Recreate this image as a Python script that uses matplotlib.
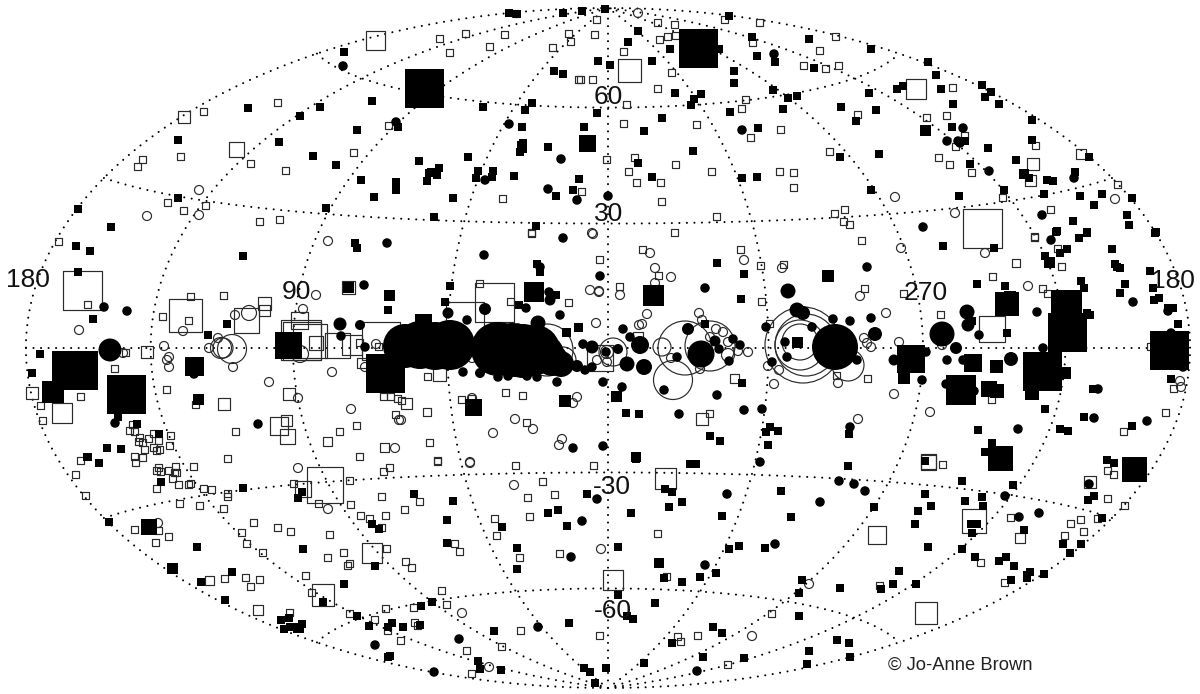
import numpy as np
import matplotlib
matplotlib.use("Agg")
import matplotlib.pyplot as plt

plt.rcParams['font.family'] = ['Liberation Sans', 'DejaVu Sans']

# Sky-map positions, in map units (x, y), y downward.
small_filled_squares = [
(509,13),(517,14),(563,13),(582,11),(344,52),(598,61),(554,71),(563,74),(248,108),(320,107),(300,116),(372,101),(483,107),(532,103),(525,110),(597,113),(522,127),(584,127),(357,130),(398,127),(178,140),(279,142),(523,143),(521,145),(523,149),(520,152),(548,147),(313,156),(336,165),(419,161),(468,157),(439,168),(431,172),(429,173),(437,175),(478,171),(493,171),(492,177),(476,178),(514,176),(579,179),(361,180),(396,182),(427,181),(396,190),(573,190),(556,196),(374,197),(453,198),(178,198),(78,209),(326,208),(434,217),(111,227),(536,226),
(605,9),(729,16),(638,31),(628,42),(670,49),(652,61),(610,65),(752,37),(809,39),(871,49),(757,56),(775,62),(719,49),(734,71),(734,83),(814,68),(928,62),(936,75),(675,93),(701,94),(694,99),(691,105),(730,112),(773,90),(788,98),(797,96),(783,109),(869,93),(841,107),(876,110),(856,121),(897,89),(903,86),(941,89),(982,85),(991,92),(985,97),(999,104),(953,104),(1032,120),(662,118),(644,131),(758,128),(952,127),(693,151),(638,163),(652,177),(742,178),(757,177),(840,157),(879,154),(965,141),(1032,140),(988,148),(1016,160),(970,164),(1089,157),(1029,178),(1047,180),(1053,181),(1075,172),(871,190),(959,196),(1004,190),(1044,194),(1080,196),(1102,194),(1094,205),(1132,198),(1127,215),(1129,225),(1073,221),(1057,231),(1087,232),(1156,232),
(76,246),(90,251),(78,272),(93,319),(243,256),(227,324),(208,335),(355,243),(357,248),(388,310),(40,354),(32,373),(107,448),(121,449),(87,457),(137,424),(159,434),(118,417),
(450,286),(445,302),(519,305),(537,264),(540,272),(556,295),(705,324),(717,263),(741,299),(626,413),(639,414),(742,383),(770,427),(766,432),(778,431),(768,445),(710,436),(720,441),
(943,246),(994,248),(1056,232),(1079,238),(1087,233),(1155,233),(1112,249),(1060,253),(1067,249),(1045,256),(1115,264),(1120,268),(1117,267),(1150,271),(1081,281),(1084,288),(1125,284),(1153,288),(1120,293),(977,284),(1005,286),(1154,300),(1159,298),(1168,308),(1173,308),(1178,324),(972,321),(1007,333),(1087,313),(1090,315),(1045,409),(978,430),(1060,429),(1068,431),(1084,417),(1132,426),(1093,389),(1171,379),(849,434),(992,443),(985,452),(1107,460),
(88,457),(99,463),(161,482),(243,488),(109,522),(197,547),(232,572),(201,582),(225,600),(302,492),(298,498),(414,494),(453,501),(447,520),(372,524),(379,529),(303,549),(447,543),(502,527),(517,548),(517,569),(587,494),(548,513),(558,510),(567,526),(375,566),(344,584),(323,602),(357,616),(421,606),(432,602),(369,626),(392,623),(388,627),(403,627),(420,625),(494,631),(569,623),(388,657),(390,656),(478,661),(480,669),(501,670),(584,668),(590,672),(595,683),(281,620),(289,618),(302,624),(284,629),(290,627),(295,627),(297,629),(300,629),
(636,459),(848,466),(690,464),(696,464),(665,489),(672,492),(682,502),(669,507),(631,513),(722,516),(781,491),(791,517),(874,507),(925,461),(962,481),(1013,485),(925,494),(931,506),(918,511),(915,524),(965,501),(982,497),(983,506),(971,524),(977,524),(972,533),(1024,530),(928,547),(962,549),(975,557),(1006,557),(999,561),(1014,566),(1030,572),(1027,575),(1027,578),(1011,580),(1044,574),(899,571),(893,584),(916,584),(881,589),(840,588),(802,580),(799,593),(799,616),(618,547),(729,549),(739,546),(765,548),(716,573),(700,577),(682,582),(664,578),(618,595),(655,603),(633,619),(627,616),(713,627),(722,633),(672,643),(703,657),(744,658),(644,663),(606,668),(809,651),(837,640),(849,643),(850,657),(807,664),(1107,460),(1114,463),(1094,496),(1088,500),(1102,518),(1063,544),(1081,544),(1070,553),
]
sized_filled_squares = [
(424,88,39),(587,143,17),(698,48,39),(925,130,11),(1024,174,10),(389,295,11),(348,287,11),(198,399,11),
(71,370,39),(78,370,39),(53,392,22),(126,394,39),(194,366,19),(288,345,27),(385,373,39),
(566,332,9),(578,327,9),(534,292,20),(423,322,17),(744,274,8),(653,295,21),(616,396,11),(565,401,12),(473,407,17),(636,457,10),(797,342,11),
(828,276,12),(1049,262,11),(1007,304,24),(1010,297,12),(1066,305,31),(1067,332,39),(1042,371,39),(1065,373,12),(1032,393,14),(1169,350,39),(911,359,28),(904,378,12),(973,363,18),(996,366,13),(961,390,30),(989,389,16),(997,391,14),(1000,458,25),(1134,469,25),
(149,527,16),(172,568,11),(659,563,10),
]
small_open_squares = [
(515,13),(596,19),(439,38),(465,33),(504,34),(568,33),(594,34),(570,41),(552,47),(489,46),(449,52),(578,79),(580,79),(592,79),(203,111),(277,102),(388,125),(142,159),(137,166),(180,156),(353,152),(250,163),(285,170),(502,198),(581,191),(167,202),(205,205),(183,210),(259,221),(279,219),(531,232),
(657,22),(674,24),(724,19),(759,22),(667,36),(675,35),(659,39),(623,51),(752,42),(835,36),(819,50),(671,72),(803,65),(825,68),(838,65),(657,88),(626,104),(745,99),(741,108),(857,114),(926,117),(946,115),(623,123),(696,124),(780,129),(750,137),(964,135),(955,146),(1035,145),(829,151),(938,157),(949,164),(971,172),(606,159),(634,157),(628,171),(675,164),(711,171),(779,171),(793,172),(636,182),(660,182),(793,187),(661,201),(716,216),(834,213),(844,209),(843,221),(849,224),(674,232),(1002,197),(1050,209),(1117,184),(1034,236),(952,87),
(58,241),(87,304),(190,296),(223,295),(162,316),(188,320),(125,352),(114,368),(80,396),(40,405),(42,420),(166,389),(235,431),(195,404),(339,431),(356,425),(395,414),(227,458),(359,456),(359,342),(378,346),(389,344),(132,424),(129,430),(134,431),(139,437),(153,433),(170,435),(169,445),(148,438),(158,440),(138,441),(142,442),(144,449),(153,447),(159,449),(156,450),(134,456),(142,457),(80,460),(383,396),(390,396),(397,398),
(531,233),(642,249),(740,249),(599,259),(760,265),(783,264),(619,286),(658,275),(568,302),(761,301),(479,283),(510,301),(427,376),(709,413),(505,392),(522,395),(461,399),(471,398),(401,400),(526,422),(429,442),(437,460),(769,323),
(861,240),(1034,237),(1057,248),(1061,266),(992,276),(1042,288),(1047,293),(864,288),(903,293),(940,314),(836,375),(867,378),(991,399),(1165,412),(1123,431),(1173,388),(1150,346),
(135,462),(158,467),(160,471),(156,470),(168,470),(175,466),(174,472),(176,472),(172,478),(193,466),(178,484),(188,484),(190,483),(156,488),(203,488),(211,489),(227,493),(227,496),(179,503),(199,505),(223,508),(75,474),(85,495),(134,529),(158,530),(155,542),(168,536),(253,522),(241,532),(246,543),(262,552),(277,527),(290,531),(329,534),(327,557),(343,552),(349,563),(347,565),(305,575),(311,592),(245,577),(259,579),(250,586),(224,578),(293,483),(318,503),(349,480),(350,504),(360,515),(369,518),(385,515),(381,527),(381,496),(383,471),(389,467),(437,461),(419,501),(404,509),(386,548),(454,543),(459,551),(405,561),(411,567),(441,590),(446,604),(413,607),(385,608),(374,619),(414,622),(417,625),(387,630),(400,640),(349,613),(289,612),(515,465),(542,481),(527,497),(554,494),(529,516),(494,518),(496,535),(559,553),(519,557),(520,630),(466,650),(501,646),(471,673),(593,465),(599,635),
(942,464),(1107,470),(1113,474),(1107,498),(1124,505),(1010,517),(1070,523),(1080,519),(1097,518),(1083,531),(1064,535),(980,562),(1004,582),(657,533),(666,576),(697,635),(677,636),(680,641),(727,664),(771,613),(879,585),
]
sized_open_squares = [
(375,40,19),(184,117,12),(236,149,15),(629,70,23),(916,89,20),(1033,164,12),(1030,180,11),(1081,154,10),(982,228,39),
(327,441,9),(384,447,9),(147,352,12),(32,393,12),(62,413,20),(224,404,12),(289,394,12),(279,426,18),(287,436,15),(286,420,11),(82,290,39),(185,315,33),(246,320,25),(264,303,13),(264,310,11),(299,320,17),
(301,340,40),(302,341,38),(310,341,34),(316,343,14),(337,345,25),(352,345,20),(362,363,10),(381,341,38),(348,287,13),
(638,337,10),(734,378,9),(427,412,8),(406,403,11),(439,374,13),(494,302,39),(702,419,12),(600,358,26),(465,321,38),
(1016,263,8),(992,329,26),(928,462,15),(209,580,9),(325,485,36),(303,489,16),(372,553,20),(323,595,22),(258,610,10),
(665,478,21),(613,580,20),(877,535,18),(928,461,15),(974,521,24),(1020,538,10),(1090,482,12),(926,613,22),
]
small_filled_circles = [
(396,122),(509,124),(343,66),(561,159),(485,180),(548,189),(577,200),(774,54),(742,130),(963,128),(947,141),(958,141),(960,143),(989,171),(1074,178),(608,196),(1042,215),(923,227),
(387,243),(104,307),(127,311),(364,285),(341,336),(365,347),(194,374),(115,423),(258,424),
(518,328),(467,320),(463,372),(498,377),(508,376),(527,376),(537,377),(557,382),(484,255),(563,238),(540,267),(549,292),(526,308),(560,315),(600,276),(585,370),(592,367),(603,382),(622,387),(583,344),(606,352),(623,329),(630,337),(677,357),(664,390),(705,288),(719,349),(733,339),(740,345),(729,361),(717,395),(679,414),(744,410),(762,409),(573,448),(603,446),(766,327),(785,342),(787,357),(772,362),
(833,319),(850,321),(871,318),(812,327),(857,360),(867,267),(1051,240),(850,427),(922,380),(926,352),(979,335),(947,360),(963,360),(1037,312),(1043,348),(946,384),(1018,429),(1098,389),(1094,418),(1133,302),(1168,311),(1147,421),(1171,333),(1183,367),(974,391),
(375,645),(459,639),(434,672),(538,627),(582,521),(571,557),(597,499),
(760,462),(839,481),(854,484),(865,491),(820,502),(727,494),(775,544),(705,565),(1005,496),(1019,517),(1039,513),(1089,484),(697,671),
]
sized_filled_circles = [
(340,324,13),(360,325,10),(110,350,23),
(450,345,50),(435,346,48),(420,345,48),(405,346,44),(498,349,54),(512,350,54),(523,351,54),(535,350,50),(545,354,38),(552,360,32),(561,364,26),(538,323,15),(448,313,11),(480,373,10),(485,309,12),(550,300,11),(577,366,12),(592,347,13),(618,349,10),(640,345,18),(627,364,15),(644,367,16),(688,329,12),(701,354,27),(715,341,11),(788,291,15),(797,310,15),
(835,347,46),(803,313,14),(875,334,14),(894,360,11),(942,334,25),(967,312,15),(968,325,13),(956,348,12),(1011,359,14),
]
small_open_circles = [
(199,190),(147,216),(199,215),(592,233),(638,13),(895,197),(955,213),(1115,199),
(328,241),(316,295),(303,309),(79,330),(183,331),(235,315),(164,346),(169,357),(167,360),(169,367),(218,338),(209,348),(233,367),(269,382),(332,372),(298,398),(351,409),(395,448),(376,344),(123,353),(365,367),(399,420),
(593,234),(650,253),(744,260),(782,268),(655,268),(671,277),(590,290),(599,291),(599,292),(620,295),(655,283),(647,314),(639,325),(642,324),(596,323),(699,313),(702,320),(716,329),(723,332),(710,337),(728,342),(738,351),(748,352),(700,369),(671,358),(597,360),(607,362),(472,358),(768,366),(779,370),(774,384),(515,419),(533,429),(493,433),(562,439),(559,445),(577,397),(573,403),(401,420),(472,398),(470,462),
(901,248),(985,253),(1028,286),(860,296),(886,313),(899,342),(864,338),(867,343),(871,347),(838,383),(894,394),(930,412),(858,419),(1180,381),(1181,387),(942,345),
(298,468),(328,509),(470,463),(514,485),(462,613),(489,667),(158,523),(601,549),(752,636),(809,584),
]
sized_open_circles = [
(249,313,15),(221,348,21),(232,349,29),(223,348,20),(300,354,17),
(728,355,13),(662,347,18),(685,348,54),(710,346,50),(673,380,39),(613,352,28),(607,352,13),(547,350,52),(563,360,26),
(803,345,76),(806,345,62),(800,345,50),(800,342,36),(848,365,32),
]
axis_labels = [("180",28,280),("90",296,292),("270",926,293),("180",1173,281),("60",608,97),("30",609,214),("-30",612,487),("-60",613,611)]
credit = "\u00a9 Jo-Anne Brown"
meridians = [-180,-135,-90,-45,0,45,90,135,180]
parallels = [-60,-30,0,30,60]

fig = plt.figure(figsize=(12, 6.94), dpi=100)
ax = fig.add_axes([0, 0, 1, 1])
ax.set_xlim(0, 1200)
ax.set_ylim(694, 0)
ax.axis("off")


def hammer(lon, lat):
    lam, phi = np.radians(lon) / 2, np.radians(lat)
    den = np.sqrt(1 + np.cos(phi) * np.cos(lam))
    return 608 + 205.8 * 2 * np.sqrt(2) * np.cos(phi) * np.sin(lam) / den, 348 - 240.4 * np.sqrt(2) * np.sin(phi) / den


dot = dict(color="black", lw=1.5, linestyle=(0, (0.01, 3.6)), dash_capstyle="round", zorder=1)
for m in meridians:
    ax.plot(*hammer(np.full(200, m), np.linspace(-90, 90, 200)), **dot)
for p in parallels:
    ax.plot(*hammer(np.linspace(-180, 180, 300), np.full(300, p)), **dot)


def px(d):
    return (np.asarray(d, float) * 0.72) ** 2


def draw(points, d, marker, filled):
    a = np.array(points, float)
    sizes = px(a[:, 2]) if a.shape[1] == 3 else px(np.full(len(a), d))
    if filled:
        ax.scatter(a[:, 0], a[:, 1], s=sizes, marker=marker, c="black", linewidths=0, zorder=3)
    else:
        ax.scatter(a[:, 0], a[:, 1], s=sizes, marker=marker, facecolors="none",
                   edgecolors="#2a2a2a", linewidths=0.85, zorder=2)


draw(small_open_squares, 7, "s", False)
draw(sized_open_squares, 0, "s", False)
draw(small_open_circles, 9, "o", False)
draw(sized_open_circles, 0, "o", False)
draw(small_filled_squares, 7.5, "s", True)
draw(sized_filled_squares, 0, "s", True)
draw(small_filled_circles, 9.5, "o", True)
draw(sized_filled_circles, 0, "o", True)

for t, x, y in axis_labels:
    ax.text(x, y, t, fontsize=19, ha="center", va="center", color="#111111", zorder=4)
ax.text(888, 665, credit, fontsize=13.2, ha="left", va="center", color="#222222", zorder=4)

fig.savefig("out.png", dpi=100, facecolor="white")
